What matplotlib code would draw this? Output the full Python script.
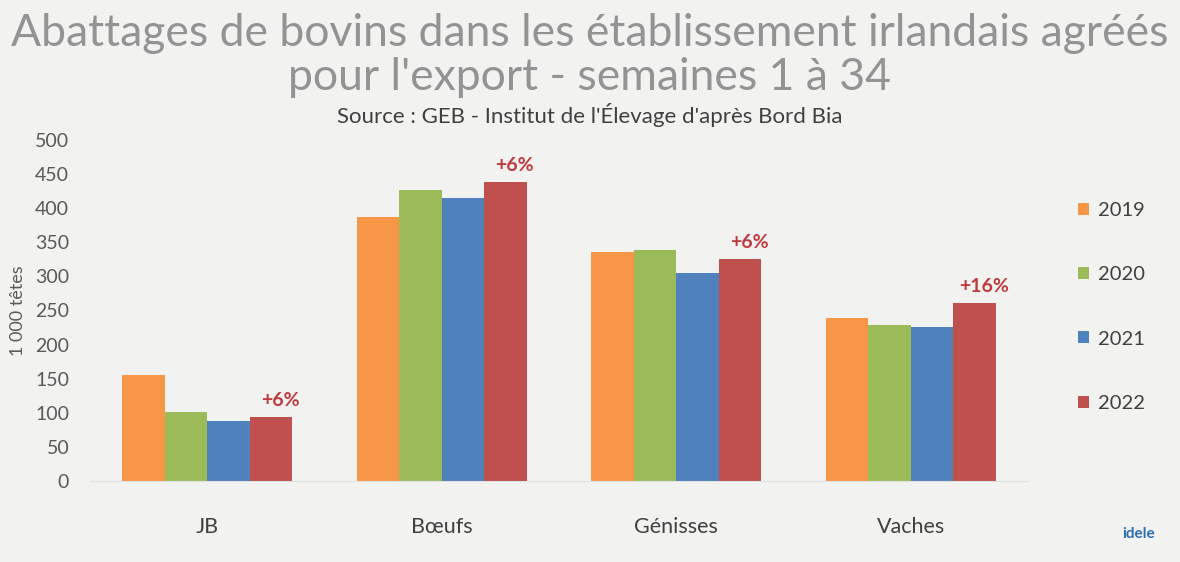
import numpy as np
import matplotlib.pyplot as plt

plt.rcParams['font.family'] = ['Lato', 'DejaVu Sans']

# data (1 000 head, weeks 1 to 34)
categories = ['JB', 'Bœufs', 'Génisses', 'Vaches']
years = ['2019', '2020', '2021', '2022']
v2019 = [155, 387, 336, 239]
v2020 = [101, 427, 339, 229]
v2021 = [88, 415, 305, 226]
v2022 = [94, 438, 325, 261]
evol = ['+6%', '+6%', '+6%', '+16%']

colors = ['#F79646', '#9BBB59', '#4F81BD', '#C0504D']
bg = '#F2F2F0'

fig = plt.figure(figsize=(11.8, 5.62), dpi=100, facecolor=bg)
ax = fig.add_axes([0.0763, 0.1441, 0.795, 0.607])
ax.set_facecolor(bg)

x = np.arange(len(categories))
w = 0.181
series = [v2019, v2020, v2021, v2022]
for i, vals in enumerate(series):
    ax.bar(x + (i - 1.5) * w, vals, w, color=colors[i], label=years[i])

for i, txt in enumerate(evol):
    ax.text(x[i] + 1.5 * w + 0.04, v2022[i] + 12, txt, ha='center', va='bottom',
            fontsize=14, fontweight='bold', color='#C0393F')

ax.set_xlim(-0.5, 3.5)
ax.set_ylim(0, 500)
ax.set_yticks(np.arange(0, 501, 50))
ax.set_xticks(x)
ax.set_xticklabels(categories)
ax.tick_params(axis='y', length=0, labelsize=14, colors='#595959', pad=15)
ax.tick_params(axis='x', length=0, labelsize=15.5, colors='#404040', pad=26)
for s in ['top', 'right', 'left']:
    ax.spines[s].set_visible(False)
ax.spines['bottom'].set_color('#E0E0E0')
ax.set_ylabel('1 000 têtes', fontsize=13, color='#595959')
ax.yaxis.set_label_coords(-0.068, 0.5)

leg = fig.legend(loc='upper left', bbox_to_anchor=(0.898, 0.673), frameon=False,
                 fontsize=14.5, labelspacing=2.35, handlelength=0.55, handleheight=0.55,
                 handletextpad=0.45, labelcolor='#404040')

fig.text(0.5, 0.94, "Abattages de bovins dans les établissement irlandais agréés",
         ha='center', va='center', fontsize=32, color='#939393')
fig.text(0.5, 0.862, "pour l'export - semaines 1 à 34",
         ha='center', va='center', fontsize=32, color='#939393')
fig.text(0.5, 0.795, "Source : GEB - Institut de l'Élevage d'après Bord Bia",
         ha='center', va='center', fontsize=16, color='#404040')

# logo text
fig.text(0.965, 0.05, 'idele', ha='center', va='center', fontsize=11,
         fontweight='bold', color='#2E6DB4')

fig.savefig('out.png', dpi=100, facecolor=bg)
